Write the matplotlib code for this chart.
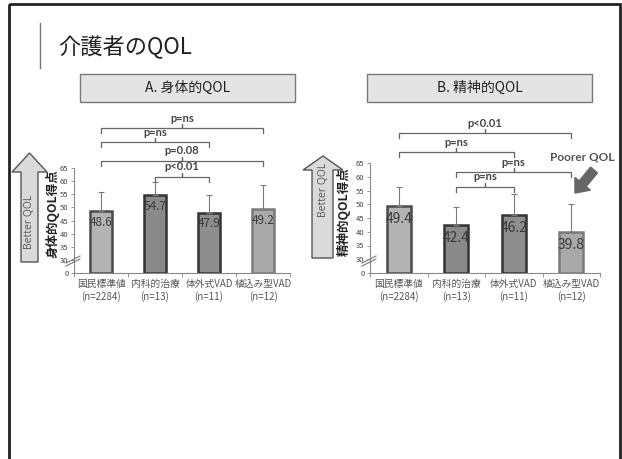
import numpy as np
import matplotlib
matplotlib.use("Agg")
import matplotlib.pyplot as plt
from matplotlib.patches import Polygon, Rectangle, FancyArrow

plt.rcParams['font.family'] = ['Noto Sans CJK JP', 'DejaVu Sans']

# ---- data ----
categories = ['国民標準値', '内科的治療', '体外式VAD', '植込み型VAD']
group_n = ['(n=2284)', '(n=13)', '(n=11)', '(n=12)']

physical = [48.6, 54.7, 47.9, 49.2]
physical_sd = [7.3, 5.0, 6.8, 9.3]
mental = [49.4, 42.4, 46.2, 39.8]
mental_sd = [6.7, 6.6, 7.7, 10.4]

# comparisons: (group a, group b, label, bracket height)
physical_tests = [(0, 3, 'p=ns', 80.2), (0, 2, 'p=ns', 74.9),
                  (0, 3, 'p=0.08', 67.7), (1, 2, 'p<0.01', 61.6)]
mental_tests = [(0, 3, 'p<0.01', 75.9), (0, 2, 'p=ns', 69.0),
                (1, 3, 'p=ns', 61.7), (1, 2, 'p=ns', 56.3)]

y_ticks = [30, 35, 40, 45, 50, 55, 60, 65]
axis_base = 25  # broken-axis floor, labelled as 0

bar_fill = ['#b3b3b3', '#8a8a8a', '#8e8e8e', '#a9a9a9']
bar_edge = ['#4a4a4a', '#333333', '#333333', '#7a7a7a']

W, H = 622, 459
fig = plt.figure(figsize=(W / 100, H / 100), dpi=100)


def px_rect(left, top, w, h):
    return [left / W, 1 - (top + h) / H, w / W, h / H]


# background layer for the slide decorations
bg = fig.add_axes([0, 0, 1, 1], zorder=0)
bg.set_xlim(0, W)
bg.set_ylim(H, 0)
bg.axis('off')

bg.add_patch(Rectangle((9, 4), 611, 480, fill=False, lw=2, ec='#222222'))
bg.plot([40, 40], [23, 68], color='#777777', lw=1)
bg.text(58, 47, '介護者のQOL', fontsize=16, color='#222222', va='center', ha='left')

for (x0, x1, label) in [(80, 295, 'A. 身体的QOL'), (367, 592, 'B. 精神的QOL')]:
    bg.add_patch(Rectangle((x0, 74), x1 - x0, 28, fc='#e4e4e4', ec='#7a7a7a', lw=1))
    bg.text((x0 + x1) / 2, 88, label, fontsize=10, color='#222222', ha='center', va='center')


def up_arrow(xl, xr, hl, hr, tip_y, base_y, bottom):
    xc = (hl + hr) / 2
    pts = [(xl, bottom), (xl, base_y), (hl, base_y), (xc, tip_y),
           (hr, base_y), (xr, base_y), (xr, bottom)]
    bg.add_patch(Polygon(pts, closed=True, fc='#dadada', ec='#555555', lw=1))
    return xc


cxa = up_arrow(21, 38, 12, 47, 153, 172, 262)
bg.text(cxa, 222, 'Better QOL', rotation=90, fontsize=7.5, color='#555555',
        ha='center', va='center', family=['Open Sans', 'DejaVu Sans'])
cxb = up_arrow(312, 333, 303, 343, 156, 170, 258)
bg.text(cxb, 190, 'Better QOL', rotation=90, fontsize=7.5, color='#555555',
        ha='center', va='center', family=['Open Sans', 'DejaVu Sans'])

bg.text(53, 214, '身体的QOL得点', rotation=90, fontsize=9, fontweight='bold',
        color='#222222', ha='center', va='center')
bg.text(344, 212, '精神的QOL得点', rotation=90, fontsize=9, fontweight='bold',
        color='#222222', ha='center', va='center')

bg.text(582, 157, 'Poorer QOL', fontsize=8.5, fontweight='bold', color='#555555',
        ha='center', va='center', family=['Lato', 'DejaVu Sans'])
bg.add_patch(FancyArrow(594, 170, -19, 23, width=9, head_width=20, head_length=12,
                        length_includes_head=True, fc='#666666', ec='#666666'))


def draw_panel(rect, values, sds, tests, label_size, label_drop):
    ax = fig.add_axes(px_rect(*rect), zorder=2)
    ax.patch.set_alpha(0)
    x = np.arange(len(values))
    vals = np.array(values)
    ax.bar(x, vals - axis_base, bottom=axis_base, width=0.42,
           color=bar_fill, edgecolor=bar_edge, linewidth=1.8, zorder=2)
    ax.errorbar(x, vals, yerr=[np.zeros(len(sds)), sds], fmt='none',
                ecolor='#7a7a7a', elinewidth=0.8, capsize=2, capthick=0.8, zorder=3)
    for xi, v in zip(x, values):
        ax.annotate(f'{v:.1f}', (xi, v), xytext=(0, -label_drop), textcoords='offset points',
                    ha='center', va='center', fontsize=label_size, color='#3a3a3a', zorder=4)

    ax.set_xlim(-0.5, len(values) - 0.5)
    ax.set_ylim(axis_base, 65)
    ax.set_yticks([axis_base] + y_ticks)
    ax.set_yticklabels(['0'] + [str(t) for t in y_ticks])
    ax.tick_params(axis='y', labelsize=5.5, labelcolor='#444444', length=2,
                   width=0.6, color='#888888', pad=2)
    ax.set_xticks(x)
    ax.set_xticklabels([f'{c}\n{n}' for c, n in zip(categories, group_n)],
                       fontsize=7, color='#555555', linespacing=1.25)
    ax.tick_params(axis='x', length=0, pad=4)
    ax.set_xticks(np.arange(-0.5, len(values)), minor=True)
    ax.tick_params(axis='x', which='minor', length=3, width=0.6, color='#888888')
    for s in ['top', 'right']:
        ax.spines[s].set_visible(False)
    for s in ['left', 'bottom']:
        ax.spines[s].set_color('#888888')
        ax.spines[s].set_linewidth(0.8)

    # significance brackets
    upp = (65 - axis_base) / rect[3]  # data units per pixel
    drop, tick = 5 * upp, 4 * upp
    for a, b, lab, yb in tests:
        xc = (a + b) / 2
        ax.plot([a, a, xc, xc, xc, b, b], [yb - drop, yb, yb, yb + tick, yb, yb, yb - drop],
                color='#666666', lw=0.9, clip_on=False, solid_joinstyle='round')
        ax.text(xc, yb + tick + 0.5 * upp, lab, ha='center', va='bottom', fontsize=8,
                fontweight='bold', color='#444444', family=['Lato', 'DejaVu Sans'],
                clip_on=False)

    # axis break marks
    L, T, Wd, Ht = rect
    def to_ax(px, py):
        return ((px - L) / Wd, (T + Ht - py) / Ht)
    for off in (0, 3):
        p0 = to_ax(L - 8, T + Ht - 7 - off)
        p1 = to_ax(L + 6, T + Ht - 14 - off)
        ax.plot([p0[0], p1[0]], [p0[1], p1[1]], transform=ax.transAxes,
                color='#777777', lw=0.8, clip_on=False, zorder=5)
    return ax


draw_panel((74, 168, 216, 105), physical, physical_sd, physical_tests, 8.5, 8)
draw_panel((370, 163, 230, 110), mental, mental_sd, mental_tests, 10, 9.5)

fig.savefig('out.png', dpi=100)
